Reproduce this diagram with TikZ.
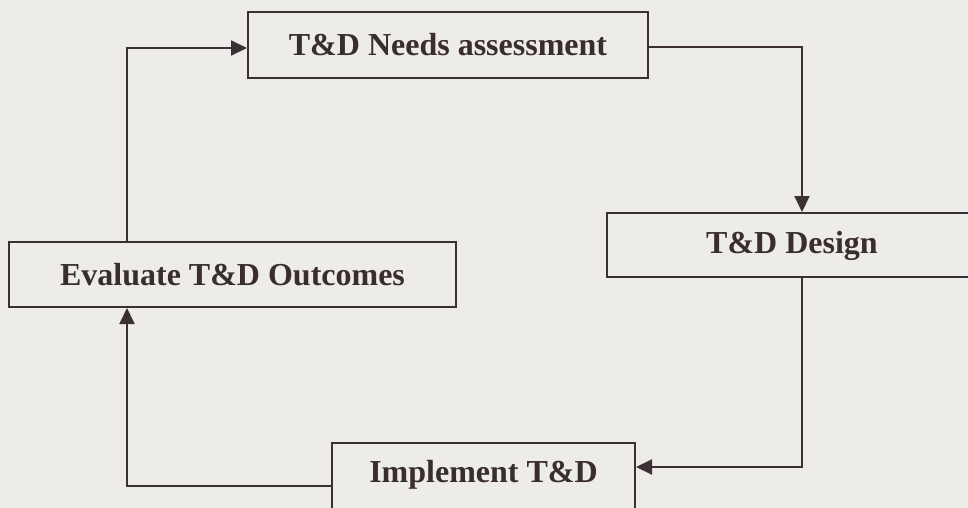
\documentclass[tikz,border=0pt]{standalone}
\usepackage{fontspec}
\setmainfont{Liberation Serif}
\usetikzlibrary{arrows.meta}
\definecolor{bg}{HTML}{EDECE9}
\definecolor{ink}{HTML}{3B3034}
\definecolor{txt}{HTML}{3A2D2F}
\tikzset{
  stepbox/.style={draw=ink, line width=2pt, rectangle, inner sep=0pt, text=txt,
    font=\fontsize{32}{36}\selectfont\bfseries},
  conn/.style={draw=ink, line width=2pt, -{Triangle[length=16pt,width=15pt]}},
}
\begin{document}
\begin{tikzpicture}[x=1pt,y=-1pt]
\fill[bg] (0,0) rectangle (968,508);
\useasboundingbox (0,0) rectangle (968,508);
\clip (0,0) rectangle (968,508);
\node[stepbox, minimum width=400pt, minimum height=66pt] (needs) at (448,45) {T\&D Needs assessment};
\node[stepbox, minimum width=370pt, minimum height=64pt] (design) at (792,245) {};
\node[text=txt, font=\fontsize{32}{36}\selectfont\bfseries] (designtext) at (792,246) {T\&D Design};
\node[stepbox, minimum width=447pt, minimum height=65pt] (eval) at (232.5,274.5) {Evaluate T\&D Outcomes};
\node[stepbox, minimum width=303pt, minimum height=66pt] (impl) at (483.5,476) {};
\node[text=txt, font=\fontsize{32}{36}\selectfont\bfseries] (impltext) at (483.5,475) {Implement T\&D};
\coordinate (c1) at (802,47);
\coordinate (c2) at (802,467);
\coordinate (c3) at (127,486);
\coordinate (c4) at (127,48);
\draw[conn] (needs.east |- c1) -- (c1) -- (design.north -| c1);
\draw[conn] (design.south -| c1) -- (c2) -- (impl.east |- c2);
\draw[conn] (impl.west |- c3) -- (c3) -- (eval.south -| c3);
\draw[conn] (eval.north -| c4) -- (c4) -- (needs.west |- c4);
\end{tikzpicture}
\end{document}
